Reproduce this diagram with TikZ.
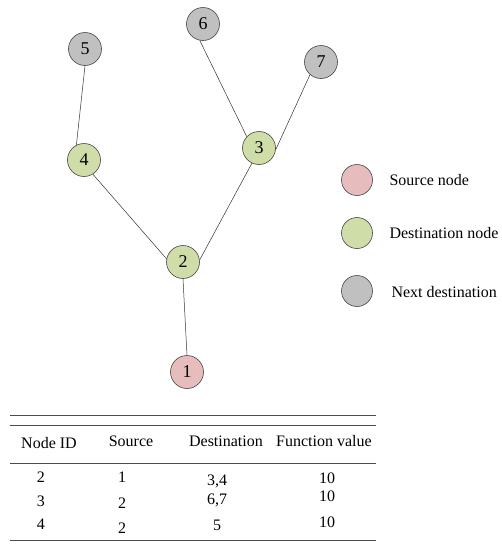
\documentclass[tikz,border=0pt]{standalone}
\usepackage{fontspec}
\setmainfont{Liberation Serif}
\usepackage{xcolor}
\usepackage{tikz}
\usetikzlibrary{positioning}

\definecolor{srcpink}{RGB}{230,188,188}
\definecolor{dstgreen}{RGB}{207,222,168}
\definecolor{nextgray}{RGB}{192,192,192}

\begin{document}
\begin{tikzpicture}[
  x=1pt, y=-1pt,
  vertex/.style={circle, draw=gray!55!black, line width=0.6pt, minimum size=33pt,
    inner sep=0pt, font=\fontsize{18}{20}\selectfont},
  source/.style={vertex, fill=srcpink},
  target/.style={vertex, fill=dstgreen},
  nexthop/.style={vertex, fill=nextgray},
  link/.style={draw=gray!40!black, line width=0.5pt},
  legendtext/.style={anchor=west, font=\fontsize{16}{19}\selectfont},
  cell/.style={font=\fontsize{16}{19}\selectfont, inner sep=0pt},
  rule/.style={draw=gray!60!black, line width=0.7pt}
]
\useasboundingbox (0,0) rectangle (502,550);

% tree
\node[source] (n1) at (187,372) {1};
\node[target] (n2) at (183,262) {2};
\node[target] (n3) at (259,148) {3};
\node[target] (n4) at (84,160) {4};
\node[nexthop] (n5) at (85,49) {5};
\node[nexthop] (n6) at (203,24) {6};
\node[nexthop] (n7) at (321,62) {7};
\draw[link] (n1.north) -- (n2.south);
\draw[link] (n2.169) -- (n4.302);
\draw[link] (n2.7) -- (n3.245);
\draw[link] (n4.117) -- (n5.south);
\draw[link] (n3.137) -- (n6.259);
\draw[link] (n3.354) -- (n7.229);

% legend
\node[source, minimum size=31pt] (key-source) at (357,180) {};
\node[target, minimum size=31pt] (key-target) at (357,233) {};
\node[nexthop, minimum size=31pt] (key-next) at (357,291) {};
\node[legendtext] (key-source-text) at (386,180) {Source node};
\node[legendtext] (key-target-text) at (386,233) {Destination node};
\node[legendtext] (key-next-text) at (388,292) {Next destination};

% table
\draw[rule] (10,415) -- (376,415);
\draw[rule] (10,425) -- (376,425);
\draw[rule] (10,463) -- (376,463);
\draw[rule] (10,540) -- (376,540);
\node[cell] (head-id) at (49,443) {Node ID};
\node[cell] (head-src) at (131,441) {Source};
\node[cell] (head-dst) at (226,441) {Destination};
\node[cell] (head-val) at (324,441) {Function value};
\node[cell] (id-a) at (41,477) {2};
\node[cell] (id-b) at (41,501) {3};
\node[cell] (id-c) at (41,524) {4};
\node[cell] (src-a) at (122,477) {1};
\node[cell] (src-b) at (122,503) {2};
\node[cell] (src-c) at (122,528) {2};
\node[cell] (dst-a) at (217,481) {3,4};
\node[cell] (dst-b) at (217,500) {6,7};
\node[cell] (dst-c) at (217,525) {5};
\node[cell] (val-a) at (327,478) {10};
\node[cell] (val-b) at (327,496) {10};
\node[cell] (val-c) at (327,522) {10};
\end{tikzpicture}
\end{document}
